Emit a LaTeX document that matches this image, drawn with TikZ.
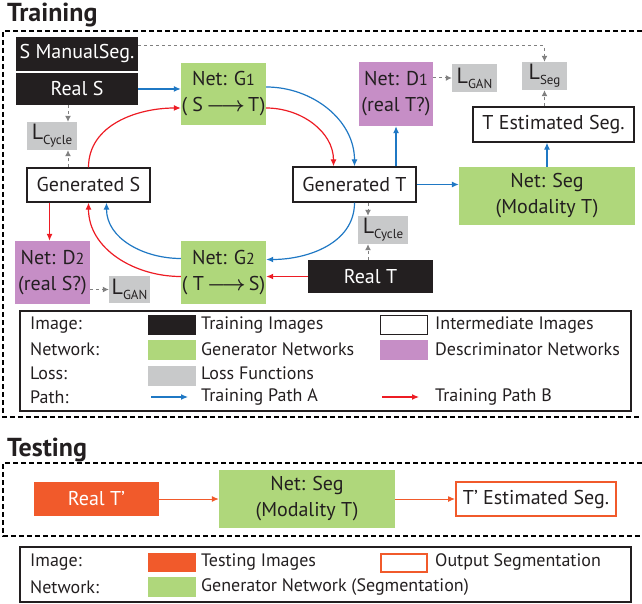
\documentclass[tikz,border=0pt]{standalone}
\usepackage{fontspec}
\setmainfont{PT Sans}
\usepackage{tikz}
\usetikzlibrary{positioning, arrows.meta}

\definecolor{gennet}{HTML}{AFD77B}
\definecolor{disnet}{HTML}{C68EC6}
\definecolor{lossgray}{HTML}{C8C9CA}
\definecolor{pathA}{HTML}{1F78C4}
\definecolor{pathB}{HTML}{ED1C24}
\definecolor{testimg}{HTML}{F15A2B}
\definecolor{imgblack}{HTML}{231F20}

\newcommand{\lossL}[1]{L\raisebox{-0.45ex}{\fontsize{13}{13}\selectfont #1}}
\newcommand{\netsub}[1]{{\fontsize{16}{16}\selectfont #1}}
\newcommand{\bigarr}{\mbox{\boldmath$\longrightarrow$}}

\tikzset{
  box/.style={inner sep=0pt, align=center, text=imgblack, font=\fontsize{20}{26}\selectfont},
  trainimg/.style={box, fill=imgblack, text=white},
  midimg/.style={box, fill=white, draw=imgblack, line width=1.3pt},
  genbox/.style={box, fill=gennet},
  disbox/.style={box, fill=disnet},
  lossbox/.style={box, fill=lossgray, font=\fontsize{22}{24}\selectfont},
  testbox/.style={box, fill=testimg, text=white},
  outbox/.style={box, fill=white, draw=testimg, line width=2pt},
  patha/.style={draw=pathA, line width=1.2pt, -{Latex[length=7pt,width=6pt]}},
  pathb/.style={draw=pathB, line width=1.2pt, -{Latex[length=7pt,width=6pt]}},
  lossarr/.style={draw=gray, line width=1pt, dash pattern=on 3pt off 3pt, -{Latex[length=6pt,width=6pt]}},
  testarr/.style={draw=testimg, line width=1pt, -{Latex[length=7pt,width=6pt]}},
  frame/.style={line width=1.5pt, dash pattern=on 5pt off 3pt},
  legframe/.style={draw=imgblack, line width=2.5pt},
  legtext/.style={anchor=west, inner sep=0pt, text=imgblack, font=\fontsize{18}{20}\selectfont},
  swatch/.style={minimum width=48pt, minimum height=20pt, inner sep=0pt},
  title/.style={anchor=west, inner sep=0pt, text=imgblack, font=\fontsize{26}{28}\selectfont\bfseries}
}

\begin{document}
\begin{tikzpicture}[x=1pt, y=-1pt]
\useasboundingbox (0,0) rectangle (642,604);

% training part
\node[title] (ttrain) at (7,15) {Training};
\draw[frame] (642,31) -- (3,31) -- (3,417) -- (642,417);

\node[trainimg, minimum width=122pt, minimum height=34pt] (smanual) at (77,54) {S ManualSeg.};
\node[trainimg, minimum width=122pt, minimum height=32pt] (reals) at (77,89) {Real S};
\node[genbox, minimum width=85pt, minimum height=62pt] (g1) at (223.5,94) {Net: G\netsub{1}\\( S\,\bigarr\,T)};
\node[lossbox, minimum width=50pt, minimum height=28pt] (lcyc1) at (52,136) {\lossL{Cycle}};
\node[midimg, minimum width=123pt, minimum height=34pt] (gens) at (88.5,185) {Generated S};
\node[disbox, minimum width=74pt, minimum height=64pt] (d1) at (396,94) {Net: D\netsub{1}\\(real T?)};
\node[lossbox, minimum width=45pt, minimum height=28pt] (lgan1) at (474.5,78) {\lossL{GAN}};
\node[lossbox, minimum width=45pt, minimum height=28pt] (lseg) at (544.5,76) {\lossL{Seg}};
\node[midimg, minimum width=161pt, minimum height=35pt] (testseg) at (553.5,124.5) {T Estimated Seg.};
\node[midimg, minimum width=123pt, minimum height=35pt] (gent) at (354.5,184.5) {Generated T};
\node[genbox, minimum width=176pt, minimum height=58pt] (segnet) at (547,196) {Net: Seg\\(Modality T)};
\node[lossbox, minimum width=50pt, minimum height=28pt] (lcyc2) at (383,230) {\lossL{Cycle}};
\node[trainimg, minimum width=125pt, minimum height=33pt] (realt) at (370.5,276.5) {Real T};
\node[disbox, minimum width=75pt, minimum height=63pt] (d2) at (52.5,272.5) {Net: D\netsub{2}\\(real S?)};
\node[lossbox, minimum width=41pt, minimum height=27pt] (lgan2) at (129.5,289.5) {\lossL{GAN}};
\node[genbox, minimum width=85pt, minimum height=63pt] (g2) at (223.5,272.5) {Net: G\netsub{2}\\( T\,\bigarr\,S)};

% path A
\draw[patha] (reals.east) -- (reals.east -| g1.west);
\draw[patha] ([yshift=7pt]g1.east) to[out=0, in=90] (gent.north);
\draw[patha] (d1.south |- gent.north) -- (d1.south);
\draw[patha] (gent.east) -- (gent.east -| segnet.west);
\draw[patha] (segnet.north) -- (segnet.north |- testseg.south);
\draw[patha] (gent.south) to[out=-90, in=0] ([yshift=13pt]g2.east);
\draw[patha] ([yshift=14pt]g2.west) to[out=180, in=-90] ([xshift=18pt]gens.south);

% path B
\draw[pathb] (realt.west) -- (realt.west -| g2.east);
\draw[pathb] ([yshift=-4pt]g2.west) to[out=180, in=-90] (gens.south);
\draw[pathb] ([xshift=-3pt]d2.north |- gens.south) -- ([xshift=-3pt]d2.north);
\draw[pathb] (gens.north) to[out=90, in=180] ([yshift=-14pt]g1.west);
\draw[pathb] ([yshift=-14pt]g1.east) to[out=0, in=90] ([xshift=-21pt]gent.north);

% losses
\coordinate (lc1a) at ([xshift=16pt]lcyc1.north);
\coordinate (lc1b) at ([xshift=16pt]lcyc1.south);
\coordinate (lc2a) at ([xshift=-15pt]lcyc2.north);
\coordinate (lc2b) at ([xshift=-15pt]lcyc2.south);
\draw[lossarr] (lc1a |- reals.south) -- (lc1a);
\draw[lossarr] (lc1b |- gens.north) -- (lc1b);
\draw[lossarr] (lc2a |- gent.south) -- (lc2a);
\draw[lossarr] (lc2b |- realt.north) -- (lc2b);
\draw[lossarr] ([yshift=8pt]smanual.east) -| (lseg.north);
\draw[lossarr] (lseg.south |- testseg.north) -- (lseg.south);
\draw[lossarr] (lgan1.west -| d1.east) -- (lgan1.west);
\draw[lossarr] (lgan2.west -| d2.east) -- (lgan2.west);

% training legend
\draw[legframe] (20,311) rectangle (631,411);
\node[legtext] (l1) at (30,325) {Image:};
\node[legtext] (l2) at (30,349) {Network:};
\node[legtext] (l3) at (30,373) {Loss:};
\node[legtext] (l4) at (30,397) {Path:};
\node[swatch, fill=imgblack] (s1) at (172,325) {};
\node[swatch, fill=gennet] (s2) at (172,350) {};
\node[swatch, fill=lossgray] (s3) at (172,376) {};
\node[swatch, fill=white, draw=imgblack, line width=1.2pt, minimum width=47pt, minimum height=19pt] (s4) at (404,325) {};
\node[swatch, fill=disnet] (s5) at (404,350) {};
\coordinate (pa0) at (151,397);
\coordinate (pa1) at (188,397);
\coordinate (pb0) at (382,397);
\coordinate (pb1) at (419,397);
\draw[patha] (pa0) -- (pa1);
\draw[pathb] (pb0) -- (pb1);
\node[legtext] (t1) at (201,325) {Training Images};
\node[legtext] (t2) at (201,349) {Generator Networks};
\node[legtext] (t3) at (201,373) {Loss Functions};
\node[legtext] (t4) at (201,397) {Training Path A};
\node[legtext] (t5) at (435,325) {Intermediate Images};
\node[legtext] (t6) at (435,349) {Descriminator Networks};
\node[legtext] (t7) at (435,397) {Training Path B};

% testing part
\node[title] (ttest) at (7,450) {Testing};
\draw[frame] (642,463) -- (3,463) -- (3,536) -- (642,536);
\node[testbox, minimum width=125pt, minimum height=34pt] (realtp) at (96.5,499) {Real T’};
\node[genbox, minimum width=176pt, minimum height=58pt] (segnet2) at (307,499) {Net: Seg\\(Modality T)};
\node[outbox, minimum width=160pt, minimum height=34pt] (outseg) at (536,499) {T’ Estimated Seg.};
\draw[testarr] (realtp.east) -- (segnet2.west);
\draw[testarr] (segnet2.east) -- (outseg.west);

% testing legend
\draw[legframe] (20,547) rectangle (631,602);
\node[legtext] (m1) at (30,562) {Image:};
\node[legtext] (m2) at (30,587) {Network:};
\node[swatch, fill=testimg, minimum height=19pt] (r1) at (172,562.5) {};
\node[swatch, fill=gennet] (r2) at (172,587) {};
\node[swatch, fill=white, draw=testimg, line width=2pt, minimum width=46pt, minimum height=18pt] (r3) at (404,563) {};
\node[legtext] (n1) at (201,562) {Testing Images};
\node[legtext] (n2) at (201,587) {Generator Network (Segmentation)};
\node[legtext] (n3) at (435,562) {Output Segmentation};
\end{tikzpicture}
\end{document}
